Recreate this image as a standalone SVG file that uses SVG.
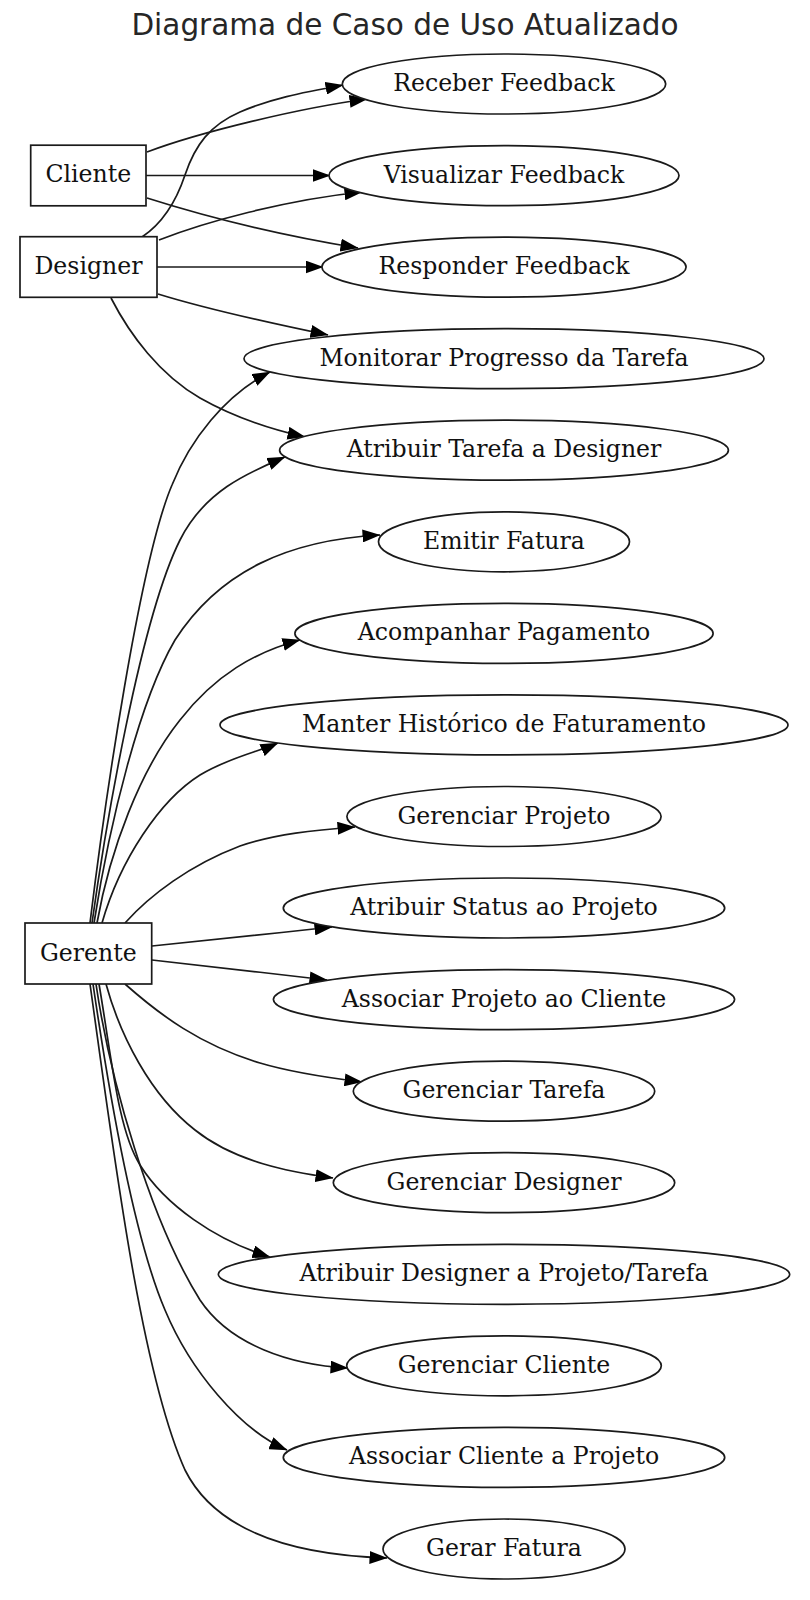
<svg xmlns="http://www.w3.org/2000/svg" width="810" height="1600" viewBox="0 0 810 1600">
<style>
.bg{fill:#ffffff}
.title{font-family:"DejaVu Sans","Liberation Sans",sans-serif;font-size:29.5px;fill:#262626;text-anchor:middle}
.n ellipse,.n rect{fill:#ffffff;stroke:#1a1a1a;stroke-width:1.7}
.n text{font-family:"DejaVu Serif","Liberation Serif",serif;font-size:23.6px;fill:#111;text-anchor:middle}
.e path{fill:none;stroke:#1a1a1a;stroke-width:1.7;marker-end:url(#arr)}
</style>
<defs>
<marker id="arr" markerUnits="userSpaceOnUse" markerWidth="18" markerHeight="13" viewBox="0 0 18 13" refX="17.5" refY="6.5" orient="auto">
<path d="M0,0 L18,6.5 L0,13 z" fill="#000"/>
</marker>
</defs>
<rect class="bg" x="0" y="0" width="810" height="1600"/>
<text class="title" x="405" y="35">Diagrama de Caso de Uso Atualizado</text>

<g id="edges" class="e">
<path d="M147,152 C200,132 300,108 367,99"/>
<path d="M146,175.5 L330,175.5"/>
<path d="M147,198 C210,218 285,236 358,248"/>
<path d="M142,237 C160,225 175,205 185,175 C195,145 210,125 240,112 C270,99 300,93 343,85"/>
<path d="M159,240 C205,222 285,200 362,192"/>
<path d="M157,267 L323,267"/>
<path d="M158,294 C200,307 265,322 328,335"/>
<path d="M111,298 C130,335 160,375 200,398 C230,415 265,428 305,437"/>
<path d="M90,923 C105,800 140,560 172,485 C190,440 225,395 270,372"/>
<path d="M92,923 C105,830 140,620 180,540 C205,490 250,472 285,457"/>
<path d="M94,923 C110,820 140,700 175,640 C220,570 290,540 380,535"/>
<path d="M97,923 C110,850 140,770 180,720 C215,675 255,652 300,640"/>
<path d="M102,923 C120,860 160,800 200,775 C230,757 258,752 278,743"/>
<path d="M125,923 C150,895 190,865 240,846 C275,834 315,830 355,827"/>
<path d="M152,946 C200,941 270,934 332,927"/>
<path d="M152,960 C200,966 270,973 327,980"/>
<path d="M125,984 C160,1015 200,1045 260,1063 C290,1072 330,1078 362,1082"/>
<path d="M106,984 C120,1035 150,1095 195,1130 C235,1162 290,1172 333,1178"/>
<path d="M99,984 C112,1060 118,1130 140,1165 C165,1205 215,1240 270,1257"/>
<path d="M96,984 C110,1080 150,1220 200,1300 C230,1345 290,1365 348,1368"/>
<path d="M93,984 C110,1100 135,1240 165,1310 C190,1370 240,1430 287,1450"/>
<path d="M90,984 C112,1140 140,1370 185,1470 C215,1530 290,1555 387,1558"/>
</g>

<g id="cliente" class="n"><rect x="30.7" y="145.2" width="115.3" height="60.6"/><text x="88.3" y="182.3">Cliente</text></g>
<g id="designer" class="n"><rect x="20" y="236.7" width="137" height="60.6"/><text x="88.5" y="274">Designer</text></g>
<g id="gerente" class="n"><rect x="25" y="923" width="126.7" height="61"/><text x="88.3" y="960.5">Gerente</text></g>

<g id="uc1" class="n"><ellipse cx="504" cy="84" rx="161.7" ry="30"/><text x="504" y="91">Receber Feedback</text></g>
<g id="uc2" class="n"><ellipse cx="504" cy="175.6" rx="175" ry="30"/><text x="504" y="182.6">Visualizar Feedback</text></g>
<g id="uc3" class="n"><ellipse cx="504" cy="267.1" rx="182.1" ry="30"/><text x="504" y="274.1">Responder Feedback</text></g>
<g id="uc4" class="n"><ellipse cx="504" cy="358.7" rx="260" ry="30"/><text x="504" y="365.7">Monitorar Progresso da Tarefa</text></g>
<g id="uc5" class="n"><ellipse cx="504" cy="450.2" rx="224.4" ry="30"/><text x="504" y="457.2">Atribuir Tarefa a Designer</text></g>
<g id="uc6" class="n"><ellipse cx="504" cy="541.8" rx="125.5" ry="30"/><text x="504" y="548.8">Emitir Fatura</text></g>
<g id="uc7" class="n"><ellipse cx="504" cy="633.4" rx="209.1" ry="30"/><text x="504" y="640.4">Acompanhar Pagamento</text></g>
<g id="uc8" class="n"><ellipse cx="504" cy="724.9" rx="284" ry="30"/><text x="504" y="731.9">Manter Histórico de Faturamento</text></g>
<g id="uc9" class="n"><ellipse cx="504" cy="816.5" rx="157.1" ry="30"/><text x="504" y="823.5">Gerenciar Projeto</text></g>
<g id="uc10" class="n"><ellipse cx="504" cy="908" rx="220.7" ry="30"/><text x="504" y="915">Atribuir Status ao Projeto</text></g>
<g id="uc11" class="n"><ellipse cx="504" cy="999.6" rx="230.6" ry="30"/><text x="504" y="1006.6">Associar Projeto ao Cliente</text></g>
<g id="uc12" class="n"><ellipse cx="504" cy="1091.2" rx="150.7" ry="30"/><text x="504" y="1098.2">Gerenciar Tarefa</text></g>
<g id="uc13" class="n"><ellipse cx="504" cy="1182.7" rx="170.7" ry="30"/><text x="504" y="1189.7">Gerenciar Designer</text></g>
<g id="uc14" class="n"><ellipse cx="504" cy="1274.3" rx="285.7" ry="30"/><text x="504" y="1281.3">Atribuir Designer a Projeto/Tarefa</text></g>
<g id="uc15" class="n"><ellipse cx="504" cy="1365.8" rx="157.3" ry="30"/><text x="504" y="1372.8">Gerenciar Cliente</text></g>
<g id="uc16" class="n"><ellipse cx="504" cy="1457.4" rx="220.7" ry="30"/><text x="504" y="1464.4">Associar Cliente a Projeto</text></g>
<g id="uc17" class="n"><ellipse cx="504" cy="1549" rx="121" ry="30"/><text x="504" y="1556">Gerar Fatura</text></g>
</svg>
